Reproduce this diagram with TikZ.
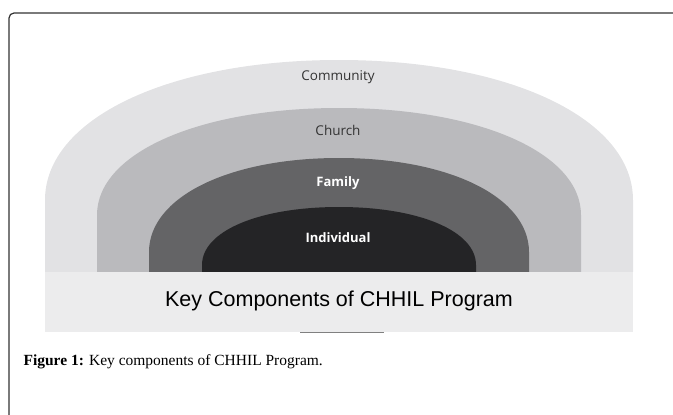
\documentclass[tikz,border=0pt]{standalone}
\usepackage{fontspec}
\setmainfont{Liberation Serif}
\newfontfamily\ringfont{Open Sans}
\newfontfamily\bandfont{Liberation Sans}
\usetikzlibrary{positioning}
\definecolor{commgray}{RGB}{226, 226, 228}
\definecolor{churchgray}{RGB}{186, 186, 189}
\definecolor{familygray}{RGB}{100, 100, 102}
\definecolor{indivgray}{RGB}{36, 36, 38}
\definecolor{bandgray}{RGB}{236, 236, 237}
\definecolor{darkgray}{RGB}{51, 51, 51}

\begin{document}
\begin{tikzpicture}[
    x=1pt, y=-1pt,
    frame/.style={draw=darkgray, line width=1.2pt, rounded corners=5pt},
    ringlabel/.style={font=\ringfont\fontsize{13.5}{16}\selectfont, text=darkgray},
    innerlabel/.style={font=\ringfont\bfseries\fontsize{13}{16}\selectfont, text=white},
    bandlabel/.style={font=\bandfont\fontsize{21.5}{24}\selectfont, text=black},
    caption/.style={font=\fontsize{15.5}{18}\selectfont, anchor=base west}
]
\useasboundingbox (0,0) rectangle (673,415);

% outer frame
\draw [frame] (9,416) -- (9,13) -- (674,13);

% rings, outer to inner
\fill [commgray] (45,272) -- (45,200) .. controls (45,119) and (168,60) .. (339,60)
    .. controls (510,60) and (633,119) .. (633,200) -- (633,272) -- cycle;
\fill [churchgray] (97,272) -- (97,215) .. controls (97,153) and (199,108) .. (339,108)
    .. controls (479,108) and (581,153) .. (581,215) -- (581,272) -- cycle;
\fill [familygray] (149,272) -- (149,252) .. controls (149,197) and (229,158) .. (339,158)
    .. controls (449,158) and (529,197) .. (529,252) -- (529,272) -- cycle;
\fill [indivgray] (202,272) -- (202,265) .. controls (202,231) and (259,207) .. (339,207)
    .. controls (419,207) and (476,231) .. (476,265) -- (476,272) -- cycle;

\node (community) [ringlabel] at (338,77) {Community};
\node (church) [ringlabel] at (338,130) {Church};
\node (family) [innerlabel] at (338,183) {Family};
\node (individual) [innerlabel] at (338,238) {Individual};

% title band
\fill [bandgray] (45,272) rectangle (633,332);
\draw [gray, line width=1pt] (300,332.5) -- (384,332.5);
\node (title) [bandlabel] at (339,301) {Key Components of CHHIL Program};

\node (fig) [caption] at (20,365) {\textbf{Figure 1:} Key components of CHHIL Program.};

\end{tikzpicture}
\end{document}
